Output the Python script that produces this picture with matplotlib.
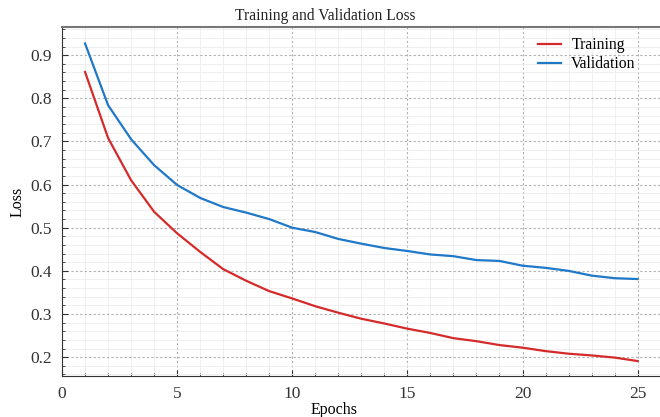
import numpy as np
import matplotlib
matplotlib.use("Agg")
from matplotlib import pyplot as plt
from matplotlib.ticker import MultipleLocator, AutoMinorLocator

# epoch numbers and loss values
epochs = list(range(1, 26))
train_loss = [0.861, 0.708, 0.610, 0.537, 0.487, 0.444, 0.404, 0.377, 0.353, 0.336,
              0.318, 0.303, 0.289, 0.278, 0.266, 0.256, 0.244, 0.237, 0.228, 0.222,
              0.214, 0.208, 0.204, 0.199, 0.191]
val_loss = [0.927, 0.784, 0.705, 0.645, 0.599, 0.569, 0.548, 0.535, 0.520, 0.500,
            0.490, 0.474, 0.463, 0.453, 0.446, 0.438, 0.434, 0.425, 0.423, 0.412,
            0.407, 0.400, 0.389, 0.383, 0.381]

plt.rcParams['font.family'] = ['Liberation Serif', 'DejaVu Serif']

fig = plt.figure(figsize=(6.6, 4.17), dpi=100)
ax = fig.add_axes([0.094, 0.098, 0.907, 0.837])

ax.plot(epochs, train_loss, color='#d42a2a', lw=1.6, label='Training')
ax.plot(epochs, val_loss, color='#1f78c8', lw=1.6, label='Validation')

ax.set_xlim(0, 26)
ax.set_ylim(0.156, 0.965)
ax.xaxis.set_major_locator(MultipleLocator(5))
ax.xaxis.set_minor_locator(MultipleLocator(1))
ax.yaxis.set_major_locator(MultipleLocator(0.1))
ax.yaxis.set_minor_locator(AutoMinorLocator(5))

ax.grid(which='major', color='#b0b0b0', ls=(0, (2, 2)), lw=0.8)
ax.grid(which='minor', color='#ececec', ls='-', lw=0.6)
ax.set_axisbelow(True)

ax.tick_params(which='both', direction='in', labelsize=12.5, colors='#333333')
ax.tick_params(which='major', length=4, pad=7)
ax.tick_params(which='minor', length=2)

ax.spines['right'].set_visible(False)
ax.spines['top'].set_color('#777777')
ax.spines['top'].set_linewidth(1.5)
ax.spines['left'].set_color('#333333')
ax.spines['bottom'].set_color('#333333')

ax.text(0.44, 1.008, 'Training and Validation Loss', transform=ax.transAxes,
        ha='center', va='bottom', fontsize=11.2, color='#222222')
ax.set_xlabel('Epochs', fontsize=11.5, labelpad=1)
ax.xaxis.set_label_coords(0.455, -0.075)
ax.set_ylabel('Loss', fontsize=11.5)
ax.yaxis.set_label_coords(-0.061, 0.5)
ax.legend(loc='upper right', bbox_to_anchor=(0.982, 1.012), frameon=False,
          fontsize=11.3, handlelength=1.45, handletextpad=0.65, labelspacing=0.2)

fig.savefig('out.png', dpi=100)
